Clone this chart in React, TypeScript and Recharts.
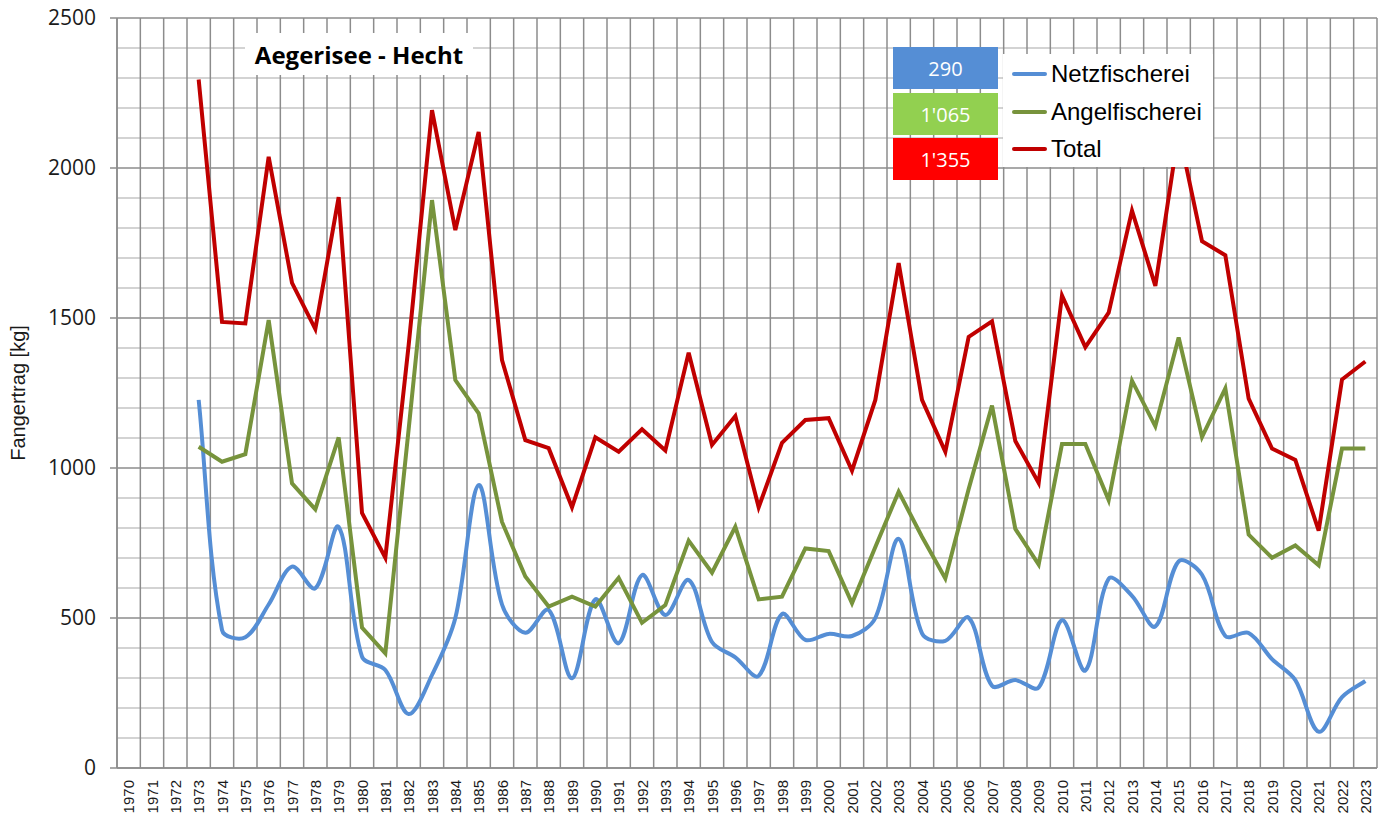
import React from "react";
import { LineChart, Line, XAxis, YAxis, CartesianGrid } from "recharts";

const years = [
  1973, 1974, 1975, 1976, 1977, 1978, 1979, 1980, 1981, 1982, 1983, 1984, 1985,
  1986, 1987, 1988, 1989, 1990, 1991, 1992, 1993, 1994, 1995, 1996, 1997, 1998,
  1999, 2000, 2001, 2002, 2003, 2004, 2005, 2006, 2007, 2008, 2009, 2010, 2011,
  2012, 2013, 2014, 2015, 2016, 2017, 2018, 2019, 2020, 2021, 2022, 2023,
];

const netz = [
  1227, 460, 436, 545, 671, 599, 804, 371, 327, 180, 310, 500, 943, 545, 451,
  527, 299, 562, 416, 643, 510, 627, 420, 369, 307, 513, 427, 447, 440, 500,
  764, 449, 424, 501, 274, 293, 268, 493, 325, 631, 574, 472, 689, 644, 440,
  450, 363, 293, 121, 236, 290,
];

const angel = [
  1071, 1021, 1046, 1493, 949, 862, 1102, 468, 382, 1130, 1893, 1293, 1182, 820,
  638, 538, 571, 538, 634, 484, 543, 758, 651, 804, 562, 571, 732, 723, 549,
  737, 921, 771, 632, 930, 1208, 797, 678, 1080, 1080, 893, 1291, 1139, 1435,
  1103, 1265, 778, 701, 742, 676, 1065, 1065,
];

const total = [
  2295, 1487, 1482, 2037, 1617, 1463, 1903, 850, 701, 1410, 2193, 1793, 2120,
  1360, 1093, 1066, 869, 1102, 1054, 1129, 1058, 1384, 1077, 1173, 869, 1084,
  1160, 1166, 991, 1227, 1683, 1227, 1054, 1437, 1489, 1090, 950, 1575, 1403,
  1518, 1858, 1607, 2124, 1756, 1709, 1231, 1065, 1027, 791, 1295, 1355,
];

// axis labels run from 1970, data starts 1973
const tickYears = Array.from({ length: 54 }, (_, i) => 1970 + i);
const yMajor = [0, 500, 1000, 1500, 2000, 2500];
const yMinor = [
  100, 200, 300, 400, 600, 700, 800, 900, 1100, 1200, 1300, 1400, 1600, 1700,
  1800, 1900, 2100, 2200, 2300, 2400,
];

const series = [
  { key: "netz", name: "Netzfischerei", color: "#558ED5", box: "#558ED5", values: netz },
  { key: "angel", name: "Angelfischerei", color: "#77933C", box: "#92D050", values: angel },
  { key: "total", name: "Total", color: "#C00000", box: "#FF0000", values: total },
];

const data = years.map((year, i) => ({
  year,
  netz: netz[i],
  angel: angel[i],
  total: total[i],
}));

const boundaries = [...tickYears.map((y) => y - 0.5), 2023.5];

const GRID = "#8c8c8c";
const GRID_LIGHT = "#c4c4c4";

// Excel-like smoothed line: bezier through the points, tangents weighted by segment length
function excelSmooth(context: any) {
  let pts: [number, number][] = [];
  const dist = (a: number[], b: number[]) => Math.hypot(b[0] - a[0], b[1] - a[1]);
  return {
    areaStart() {},
    areaEnd() {},
    lineStart() {
      pts = [];
    },
    point(x: number, y: number) {
      pts.push([+x, +y]);
    },
    lineEnd() {
      if (!pts.length) return;
      context.moveTo(pts[0][0], pts[0][1]);
      for (let i = 0; i < pts.length - 1; i++) {
        const p0 = pts[i - 1] || pts[i];
        const p1 = pts[i];
        const p2 = pts[i + 1];
        const p3 = pts[i + 2] || p2;
        const d01 = dist(p0, p1);
        const d12 = dist(p1, p2);
        const d23 = dist(p2, p3);
        const a = d01 + d12 > 0 ? d12 / (3 * (d01 + d12)) : 0;
        const b = d12 + d23 > 0 ? d12 / (3 * (d12 + d23)) : 0;
        context.bezierCurveTo(
          p1[0] + (p2[0] - p0[0]) * a,
          p1[1] + (p2[1] - p0[1]) * a,
          p2[0] - (p3[0] - p1[0]) * b,
          p2[1] - (p3[1] - p1[1]) * b,
          p2[0],
          p2[1]
        );
      }
    },
  };
}

function fmt(v: number) {
  return String(v).replace(/\B(?=(\d{3})+(?!\d))/g, "'");
}

function YearTick({ x, y, payload }: any) {
  return (
    <text
      x={x}
      y={y}
      transform={`rotate(-90 ${x} ${y})`}
      textAnchor="end"
      dominantBaseline="central"
      fontSize={15}
      fontFamily="'Liberation Sans', Arial, sans-serif"
      fill="#1a1a1a"
    >
      {payload.value}
    </text>
  );
}

function LegendBox() {
  return (
    <div
      style={{
        position: "absolute",
        left: 1003,
        top: 54,
        width: 210,
        height: 113,
        background: "#fff",
        boxSizing: "border-box",
        paddingTop: 1,
      }}
    >
      {series.map((s) => (
        <div
          key={s.key}
          style={{ display: "flex", alignItems: "center", height: 37.7 }}
        >
          <div
            style={{
              width: 35,
              height: 4,
              background: s.color,
              marginLeft: 9,
              marginRight: 4,
              borderRadius: 2,
            }}
          />
          <span
            style={{
              fontFamily: "'Liberation Sans', Arial, sans-serif",
              fontSize: 24,
              color: "#000",
              lineHeight: 1,
            }}
          >
            {s.name}
          </span>
        </div>
      ))}
    </div>
  );
}

export default function App() {
  const boxTops = [47, 93, 138];
  return (
    <div
      style={{
        position: "absolute",
        left: 0,
        top: 0,
        width: 1387,
        height: 819,
        background: "#fff",
        fontFamily: "'Open Sans', sans-serif",
      }}
    >
      <LineChart
        width={1387}
        height={819}
        data={data}
        margin={{ top: 18, right: 10, left: 0, bottom: 0 }}
      >
        <CartesianGrid
          horizontalValues={yMinor}
          vertical={false}
          stroke={GRID_LIGHT}
          strokeWidth={1.5}
        />
        <CartesianGrid
          horizontalValues={yMajor}
          verticalValues={boundaries}
          stroke={GRID}
          strokeWidth={1.5}
        />
        <XAxis
          dataKey="year"
          type="number"
          domain={[1969.5, 2023.5]}
          ticks={tickYears}
          interval={0}
          height={51}
          tickSize={0}
          tickMargin={12}
          tickLine={false}
          axisLine={{ stroke: GRID, strokeWidth: 1.5 }}
          tick={<YearTick />}
        />
        <YAxis
          width={117}
          domain={[0, 2500]}
          ticks={yMajor}
          tickSize={7}
          tickMargin={14}
          tickLine={{ stroke: GRID, strokeWidth: 1.5 }}
          axisLine={{ stroke: GRID, strokeWidth: 1.5 }}
          tick={{
            fill: "#1a1a1a",
            fontSize: 21,
            fontFamily: "'Open Sans', sans-serif",
          }}
        />
        <YAxis
          yAxisId="minor"
          mirror
          width={0}
          domain={[0, 2500]}
          ticks={yMinor}
          tick={false}
          tickSize={15}
          axisLine={false}
          tickLine={{ stroke: GRID, strokeWidth: 1.5 }}
        />
        <Line
          dataKey="netz"
          name="Netzfischerei"
          type={excelSmooth as any}
          stroke="#558ED5"
          strokeWidth={4}
          dot={false}
          activeDot={false}
          isAnimationActive={false}
        />
        <Line
          dataKey="angel"
          name="Angelfischerei"
          type="linear"
          stroke="#77933C"
          strokeWidth={4}
          dot={false}
          activeDot={false}
          isAnimationActive={false}
        />
        <Line
          dataKey="total"
          name="Total"
          type="linear"
          stroke="#C00000"
          strokeWidth={4}
          dot={false}
          activeDot={false}
          isAnimationActive={false}
        />
      </LineChart>

      <div
        style={{
          position: "absolute",
          left: 245,
          top: 33,
          width: 228,
          height: 42,
          background: "#fff",
          display: "flex",
          alignItems: "center",
          justifyContent: "center",
          fontFamily: "'Open Sans', sans-serif",
          fontWeight: 700,
          fontSize: 24,
          color: "#000",
        }}
      >
        Aegerisee - Hecht
      </div>

      {series.map((s, i) => (
        <div
          key={s.key}
          style={{
            position: "absolute",
            left: 893,
            top: boxTops[i],
            width: 105,
            height: 42,
            background: s.box,
            color: "#fff",
            display: "flex",
            alignItems: "center",
            justifyContent: "center",
            fontFamily: "'Open Sans', sans-serif",
            fontSize: 20,
          }}
        >
          {fmt(s.values[s.values.length - 1])}
        </div>
      ))}

      <LegendBox />

      <div
        style={{
          position: "absolute",
          left: 18,
          top: 393,
          transform: "translate(-50%, -50%) rotate(-90deg)",
          whiteSpace: "nowrap",
          fontFamily: "'Liberation Sans', Arial, sans-serif",
          fontSize: 20,
          color: "#1a1a1a",
        }}
      >
        Fangertrag [kg]
      </div>
    </div>
  );
}
